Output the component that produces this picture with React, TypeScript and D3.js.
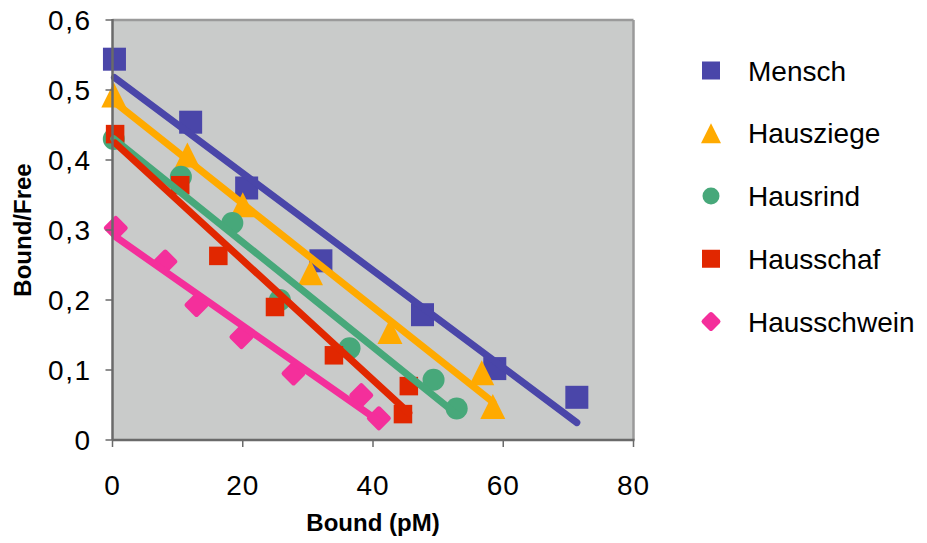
import React from "react";
import * as d3 from "d3";

const seriesNames = ["Mensch", "Hausziege", "Hausrind", "Hausschaf", "Hausschwein"];
const seriesColors = ["#4A46A9", "#FFAA00", "#47A87A", "#E12700", "#F42F9B"];
const seriesShapes = ["square", "triangle", "circle", "square", "diamond"];

const menschX = [0.3, 12.0, 20.6, 32.0, 47.6, 58.7, 71.3];
const menschY = [0.544, 0.454, 0.36, 0.256, 0.179, 0.102, 0.061];
const ziegeX = [0.2, 11.5, 20.0, 30.4, 42.6, 56.7, 58.4];
const ziegeY = [0.493, 0.407, 0.336, 0.239, 0.155, 0.096, 0.048];
const rindX = [0.2, 10.5, 18.4, 25.7, 36.4, 49.3, 52.85];
const rindY = [0.43, 0.376, 0.31, 0.2, 0.131, 0.086, 0.045];
const schafX = [0.4, 10.4, 16.25, 24.95, 34.0, 45.5, 44.6];
const schafY = [0.437, 0.364, 0.263, 0.19, 0.121, 0.077, 0.037];
const schweinX = [0.5, 8.1, 12.9, 19.8, 27.8, 38.2, 40.9];
const schweinY = [0.303, 0.255, 0.193, 0.147, 0.095, 0.064, 0.031];

const xTicks = [0, 20, 40, 60, 80];
const yTicks = [0, 0.1, 0.2, 0.3, 0.4, 0.5, 0.6];
const xTitle = "Bound (pM)";
const yTitle = "Bound/Free";

const seriesX = [menschX, ziegeX, rindX, schafX, schweinX];
const seriesY = [menschY, ziegeY, rindY, schafY, schweinY];

const W = 927;
const H = 543;
const plot = { left: 112.5, right: 633.5, top: 20, bottom: 440 };
const FONT = "'Liberation Sans', Arial, sans-serif";

function regression(xs: number[], ys: number[]) {
  const mx = d3.mean(xs) as number;
  const my = d3.mean(ys) as number;
  let sxy = 0;
  let sxx = 0;
  xs.forEach((x, i) => {
    sxy += (x - mx) * (ys[i] - my);
    sxx += (x - mx) * (x - mx);
  });
  const slope = sxy / sxx;
  const intercept = my - slope * mx;
  return { slope, intercept };
}

function Marker({ shape, cx, cy, size, color }: { shape: string; cx: number; cy: number; size: number; color: string }) {
  if (shape === "square") {
    return <rect x={cx - size / 2} y={cy - size / 2} width={size} height={size} fill={color} />;
  }
  if (shape === "triangle") {
    const w = size;
    const h = size;
    return (
      <path
        d={`M${cx},${cy - h / 2} L${cx + w / 2},${cy + h / 2} L${cx - w / 2},${cy + h / 2} Z`}
        fill={color}
      />
    );
  }
  if (shape === "circle") {
    return <circle cx={cx} cy={cy} r={size / 2} fill={color} />;
  }
  const s = size / Math.SQRT2;
  return (
    <rect
      x={cx - s / 2}
      y={cy - s / 2}
      width={s}
      height={s}
      rx={2.5}
      fill={color}
      transform={`rotate(45 ${cx} ${cy})`}
    />
  );
}

export default function App() {
  const x = d3.scaleLinear().domain([0, 80]).range([plot.left, plot.right]);
  const y = d3.scaleLinear().domain([0, 0.6]).range([plot.bottom, plot.top]);
  const line = d3
    .line<[number, number]>()
    .x((d) => x(d[0]))
    .y((d) => y(d[1]));
  const fmt = (v: number) => (v === 0 ? "0" : d3.format(".1f")(v).replace(".", ","));

  const markerSizes = [23, 25, 22, 18.5, 26];
  const legendSizes = [18, 20, 17, 18, 21];
  const legendY = d3.scalePoint<string>().domain(seriesNames).range([70.5, 321.5]);

  return (
    <svg width={W} height={H} style={{ position: "absolute", left: 0, top: 0, background: "#fff" }}>
      <rect x={plot.left} y={plot.top} width={plot.right - plot.left} height={plot.bottom - plot.top} fill="#C9CBCA" />
      <line x1={plot.left} x2={plot.right} y1={plot.top} y2={plot.top} stroke="#9A9A9A" strokeWidth={2.5} />
      <line x1={plot.right} x2={plot.right} y1={plot.top} y2={plot.bottom} stroke="#9A9A9A" strokeWidth={2.5} />

      {seriesNames.map((name, si) => (
        <g key={name}>
          {seriesX[si].map((xv, i) => (
            <Marker
              key={i}
              shape={seriesShapes[si]}
              cx={x(xv)}
              cy={y(seriesY[si][i])}
              size={markerSizes[si]}
              color={seriesColors[si]}
            />
          ))}
        </g>
      ))}

      {seriesNames.map((name, si) => {
        const { slope, intercept } = regression(seriesX[si], seriesY[si]);
        const [x0, x1] = d3.extent(seriesX[si]) as [number, number];
        const pts: [number, number][] = [
          [x0, intercept + slope * x0],
          [x1, intercept + slope * x1],
        ];
        return (
          <path
            key={name + "-fit"}
            d={line(pts) as string}
            stroke={seriesColors[si]}
            strokeWidth={7}
            strokeLinecap="round"
            fill="none"
          />
        );
      })}

      {/* axes */}
      <line x1={plot.left} x2={plot.left} y1={plot.top - 1} y2={plot.bottom} stroke="#6A6A6A" strokeWidth={2.5} />
      <line x1={plot.left} x2={plot.right + 1} y1={plot.bottom} y2={plot.bottom} stroke="#6A6A6A" strokeWidth={2.5} />
      {yTicks.map((t) => (
        <g key={"y" + t}>
          <line x1={plot.left - 7} x2={plot.left} y1={y(t)} y2={y(t)} stroke="#6A6A6A" strokeWidth={1.5} />
          <text
            x={plot.left - 21}
            y={y(t) + 10}
            textAnchor="end"
            fontFamily={FONT}
            fontSize={28}
            letterSpacing={1.5}
            fill="#000"
          >
            {fmt(t)}
          </text>
        </g>
      ))}
      {xTicks.map((t) => (
        <g key={"x" + t}>
          <line x1={x(t)} x2={x(t)} y1={plot.bottom} y2={plot.bottom + 7} stroke="#6A6A6A" strokeWidth={1.5} />
          <text x={x(t)} y={495} textAnchor="middle" fontFamily={FONT} fontSize={28} letterSpacing={1} fill="#000">
            {t}
          </text>
        </g>
      ))}
      <text x={(plot.left + plot.right) / 2} y={531} textAnchor="middle" fontFamily={FONT} fontSize={24} fontWeight="bold">
        {xTitle}
      </text>
      <text
        transform={`translate(31, ${(plot.top + plot.bottom) / 2}) rotate(-90)`}
        textAnchor="middle"
        fontFamily={FONT}
        fontSize={24}
        fontWeight="bold"
      >
        {yTitle}
      </text>

      {/* legend */}
      {seriesNames.map((name, si) => {
        const cy = legendY(name) as number;
        return (
          <g key={"leg" + name}>
            <Marker shape={seriesShapes[si]} cx={711} cy={cy} size={legendSizes[si]} color={seriesColors[si]} />
            <text x={748} y={cy + 10} fontFamily={FONT} fontSize={28} fill="#000">
              {name}
            </text>
          </g>
        );
      })}
    </svg>
  );
}
